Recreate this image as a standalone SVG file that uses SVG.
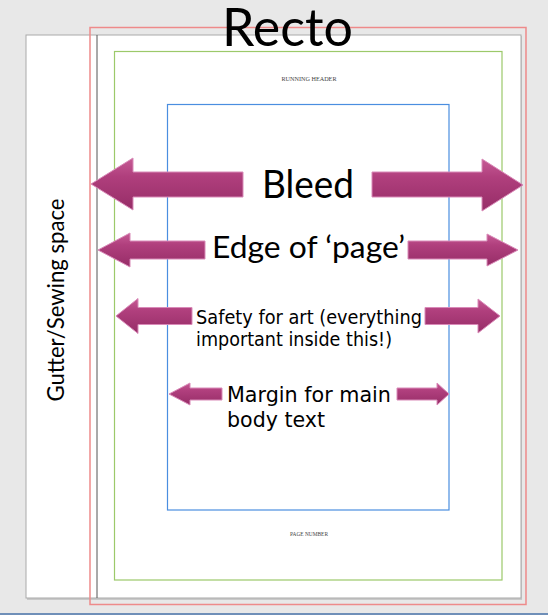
<svg xmlns="http://www.w3.org/2000/svg" width="548" height="615" viewBox="0 0 548 615">
<defs>
<linearGradient id="ag" x1="0" y1="0" x2="0" y2="1">
<stop offset="0" stop-color="#c65a95"/>
<stop offset="0.35" stop-color="#b03f7d"/>
<stop offset="1" stop-color="#962d67"/>
</linearGradient>
<style>
.arrow{fill:url(#ag);stroke:#d98ab8;stroke-width:1;stroke-linejoin:miter}
.cal{font-family:Lato,"Open Sans","Liberation Sans",sans-serif;fill:#000}
.ver{font-family:"DejaVu Sans","Liberation Sans",sans-serif;fill:#000}
.small{font-family:"Liberation Serif","DejaVu Serif",serif;font-size:6px;fill:#444}
</style>
</defs>
<rect x="0" y="0" width="548" height="615" fill="#e8e8e8"/>
<line x1="0" y1="614" x2="548" y2="614" stroke="#6f8fb8" stroke-width="2"/>
<g id="page">
<rect x="27" y="36" width="495" height="564" fill="#c8c8c8"/>
<rect x="26" y="35" width="495" height="563" fill="#ffffff" stroke="#a9a9a9" stroke-width="1"/>
<line x1="97" y1="35" x2="97" y2="598" stroke="#555" stroke-width="1"/>
</g>
<g id="bleed-box"><rect x="90" y="27.5" width="436" height="577" fill="none" stroke="#ee8a8a" stroke-width="1.5"/></g>
<g id="safety-box"><rect x="114.5" y="51.5" width="387.5" height="528.5" fill="none" stroke="#9cc96a" stroke-width="1.2"/></g>
<g id="margin-box"><rect x="167.5" y="104.5" width="281.5" height="405.5" fill="none" stroke="#4a8ee0" stroke-width="1.2"/></g>
<g id="title"><text class="cal" x="222" y="46" font-size="53" textLength="131" lengthAdjust="spacingAndGlyphs">Recto</text></g>
<g id="running-header"><text class="small" x="309" y="81" text-anchor="middle" textLength="55" lengthAdjust="spacingAndGlyphs">RUNNING HEADER</text></g>
<g id="page-number"><text class="small" x="309" y="536" text-anchor="middle" textLength="38" lengthAdjust="spacingAndGlyphs">PAGE NUMBER</text></g>
<g id="gutter"><text class="cal" transform="translate(64,300) rotate(-90)" x="0" y="0" font-size="24" text-anchor="middle" textLength="203" lengthAdjust="spacingAndGlyphs">Gutter/Sewing space</text></g>
<g id="connectors">
<g id="bleed-arrows">
<path class="arrow" d="M91,184 L133,158 L133,172 L243,172 L243,197 L133,197 L133,210 Z"/>
<path class="arrow" d="M523,185 L482,159 L482,172 L372,172 L372,197 L482,197 L482,211 Z"/>
</g>
<g id="edge-arrows">
<path class="arrow" d="M98,250 L130,233 L130,241 L205,241 L205,259 L130,259 L130,267 Z"/>
<path class="arrow" d="M518,250 L487,234 L487,241 L408,241 L408,259 L487,259 L487,266 Z"/>
</g>
<g id="safety-arrows">
<path class="arrow" d="M116,316 L138,298.5 L138,307.5 L192,307.5 L192,324.5 L138,324.5 L138,333.5 Z"/>
<path class="arrow" d="M500,316 L478,299 L478,307.5 L425,307.5 L425,324.5 L478,324.5 L478,333 Z"/>
</g>
<g id="margin-arrows">
<path class="arrow" d="M169,394 L190,383 L190,388 L222,388 L222,400 L190,400 L190,405 Z"/>
<path class="arrow" d="M449,394 L437,383 L437,388 L397,388 L397,400 L437,400 L437,405 Z"/>
</g>
</g>
<g id="bleed-label"><text class="cal" x="262" y="198" font-size="38" textLength="92" lengthAdjust="spacingAndGlyphs">Bleed</text></g>
<g id="edge-label"><text class="cal" x="212" y="258" font-size="31" textLength="193" lengthAdjust="spacingAndGlyphs">Edge of ‘page’</text></g>
<g id="safety-label">
<text class="ver" x="196" y="324" font-size="19" textLength="226" lengthAdjust="spacingAndGlyphs">Safety for art (everything</text>
<text class="ver" x="196" y="346" font-size="19" textLength="196" lengthAdjust="spacingAndGlyphs">important inside this!)</text>
</g>
<g id="margin-label">
<text class="ver" x="227" y="402" font-size="22" textLength="164" lengthAdjust="spacingAndGlyphs">Margin for main</text>
<text class="ver" x="227" y="427" font-size="22" textLength="98" lengthAdjust="spacingAndGlyphs">body text</text>
</g>
</svg>
